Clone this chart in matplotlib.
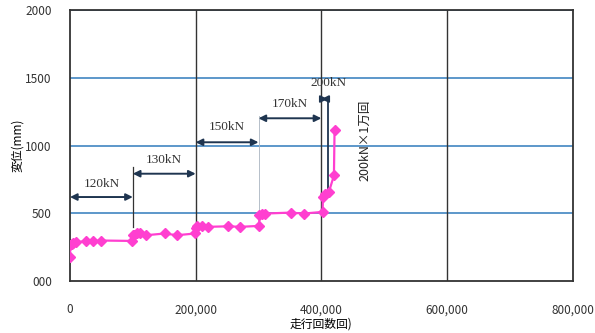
import matplotlib.pyplot as plt

plt.rcParams['font.family'] = ['Noto Sans CJK JP', 'DejaVu Sans']

# measured data: cycles vs displacement
cycles = [0, 500, 2600, 4800, 10000, 25000, 36000, 50000, 99000, 100000, 102000,
          106000, 111000, 121000, 151000, 170000, 199000, 200000, 202000, 210000,
          219000, 252000, 271000, 301000, 301500, 305000, 310000, 351000, 372000,
          402000, 402500, 406000, 412000, 420000, 421000]
disp = [174, 268, 277, 282, 287, 294, 294, 299, 296, 338, 340,
        351, 351, 338, 351, 338, 351, 388, 404, 407,
        400, 404, 400, 407, 485, 493, 498, 505, 498,
        510, 620, 645, 657, 779, 1115]

# load steps (start, end, arrow height, label)
step_start = [0, 100000, 200000, 300000, 400000]
step_end = [100000, 200000, 300000, 400000, 410000]
step_y = [620, 792, 1024, 1201, 1343]
step_labels = ['120kN', '130kN', '150kN', '170kN', '200kN']
label_y = [718, 890, 1135, 1307, 1458]

xticks = [0, 200000, 400000, 600000, 800000]
xtick_labels = ['0', '200,000', '400,000', '600,000', '800,000']
yticks = [0, 500, 1000, 1500, 2000]
ytick_labels = ['000', '500', '1000', '1500', '2000']

fig = plt.figure(figsize=(5.95, 3.33), dpi=100)
ax = fig.add_axes([0.1176, 0.156, 0.845, 0.814])

grid_blue = '#4f8fc6'
dark = '#333333'
navy = '#1f3550'

for y in yticks[1:]:
    ax.axhline(y, color=grid_blue, lw=1.3, zorder=1)
for x in xticks[1:4]:
    ax.axvline(x, color=dark, lw=1.0, zorder=1)

ax.plot(cycles, disp, color='#ff3fd0', lw=1.6, marker='D', markersize=5.5,
        markeredgecolor='#ff3fd0', zorder=5)

# step arrows and labels
for s, e, y, lab, ly in zip(step_start, step_end, step_y, step_labels, label_y):
    ax.annotate('', xy=(s, y), xytext=(e, y),
                arrowprops=dict(arrowstyle='<|-|>', color=navy, lw=1.4,
                                mutation_scale=10, shrinkA=0, shrinkB=0))
    ax.text((s + e) / 2 if lab != '200kN' else 411000, ly, lab,
            ha='center', va='center', fontsize=9.5,
            family=['Liberation Serif'], color='#333333')

# vertical step separators
ax.plot([100000, 100000], [400, 840], color=dark, lw=0.9, zorder=2)
ax.plot([300000, 300000], [426, 1220], color='#aab4c0', lw=0.6, zorder=2)
ax.plot([410500, 410500], [657, 1343], color=navy, lw=1.3, zorder=2)

ax.text(470000, 1037, '200kN×1万回', rotation=90, ha='center', va='center',
        fontsize=9, family=['Noto Sans CJK JP', 'DejaVu Sans'], color='#222222')

ax.set_xlim(0, 800000)
ax.set_ylim(0, 2000)
ax.set_xticks(xticks)
ax.set_xticklabels(xtick_labels, fontsize=8.5, color='#333333')
ax.set_yticks(yticks)
ax.set_yticklabels(ytick_labels, fontsize=8.5, color='#333333')
ax.tick_params(axis='x', length=0, pad=16)
ax.tick_params(axis='y', length=0, pad=13)
for sp in ax.spines.values():
    sp.set_color(dark)
    sp.set_linewidth(1.3)

ax.set_xlabel('走行回数回)', fontsize=8.5, labelpad=1)
ax.set_ylabel('変位(mm)', fontsize=8.5, labelpad=1)

fig.savefig('out.png', dpi=100)
